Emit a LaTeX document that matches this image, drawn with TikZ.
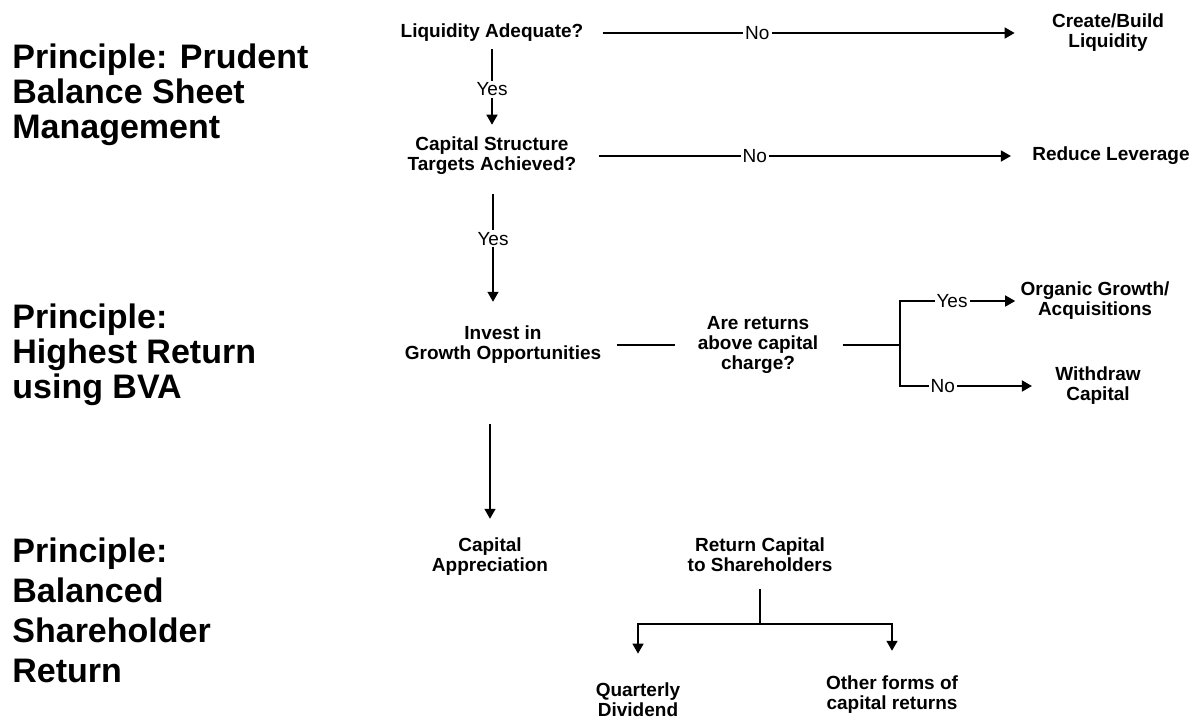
\documentclass[tikz,border=0pt]{standalone}
\usepackage{fontspec}
\setmainfont{Liberation Sans}
\usetikzlibrary{arrows.meta,positioning,calc}
\tikzset{
  txt/.style={align=center,font=\fontsize{9.5}{10}\selectfont\bfseries,inner sep=1pt},
  principle/.style={align=left,anchor=north west,inner sep=0pt,font=\fontsize{17}{17.5}\selectfont\bfseries},
  lbl/.style={font=\fontsize{9.5}{10}\selectfont,fill=white,inner sep=1pt},
  flow/.style={-{Triangle[length=5pt,width=5.5pt]},line width=0.8pt},
  plain/.style={line width=0.8pt},
}
\begin{document}
\begin{tikzpicture}[x=0.5pt,y=-0.5pt]
  \useasboundingbox (0,0) rectangle (1194,718);
  % principles on the left
  \node[principle] (h1) at (12,43) {Principle: Prudent\\Balance Sheet\\Management};
  \node[principle] (h2) at (12,303) {Principle:\\Highest Return\\using BVA};
  \node[principle,font=\fontsize{17}{20}\selectfont\bfseries] (h3) at (12,537) {Principle:\\Balanced\\Shareholder\\Return};
  % balance sheet checks
  \node[txt] (liq) at (492,33) {Liquidity Adequate?};
  \node[txt] (build) at (1108,33) {Create/Build\\Liquidity};
  \node[txt] (cap) at (492,156) {Capital Structure\\Targets Achieved?};
  \node[txt] (lev) at (1111,156) {Reduce Leverage};
  \draw[flow,shorten <=8.5pt,shorten >=17.5pt] (liq) -- node[lbl,pos=0.37] {No} (build);
  \draw[flow,shorten <=10pt,shorten >=9.5pt] (cap) -- node[lbl,pos=0.39] {No} (lev);
  \draw[flow,shorten <=2.5pt,shorten >=5pt] (liq.south) -- node[lbl] {Yes} (liq.south |- cap.north);
  % growth
  \node[txt] (inv) at (503,345) {Invest in\\Growth Opportunities};
  \node[txt] (ret) at (758,345) {Are returns\\above capital\\charge?};
  \node[txt] (org) at (1095,301) {Organic Growth/\\Acquisitions};
  \node[txt] (wd) at (1098,386) {Withdraw\\Capital};
  \coordinate (br) at (900,345);
  \draw[flow,shorten <=8.5pt,shorten >=11pt] ([xshift=0.5pt]cap.south) -- node[lbl,pos=0.42] {Yes} ([xshift=0.5pt]cap.south |- inv.north);
  \draw[plain,shorten <=6.5pt,shorten >=10pt] (inv) -- (ret);
  \draw[plain,shorten <=11pt] (ret.east) -- (br);
  \draw[flow,shorten >=1.5pt] (br) |- node[lbl,pos=0.72] {Yes} (org.west);
  \draw[flow,shorten >=10.5pt] (br) |- node[lbl,pos=0.64] {No} (wd.west);
  % shareholder return
  \node[txt] (app) at (490,557) {Capital\\Appreciation};
  \node[txt] (rc) at (760,555) {Return Capital\\to Shareholders};
  \node[txt] (qd) at (638,700) {Quarterly\\Dividend};
  \node[txt] (oth) at (892,695) {Other forms of\\capital returns};
  \coordinate (split) at (760,624);
  \draw[flow,shorten <=29pt,shorten >=8.5pt] (app.north |- inv.south) -- (app.north);
  \draw[plain,shorten <=7.5pt] (rc.south) -- (split);
  \draw[flow,shorten >=13.5pt] (split) -| (qd.north);
  \draw[flow,shorten >=11.5pt] (split) -| (oth.north);
\end{tikzpicture}
\end{document}
